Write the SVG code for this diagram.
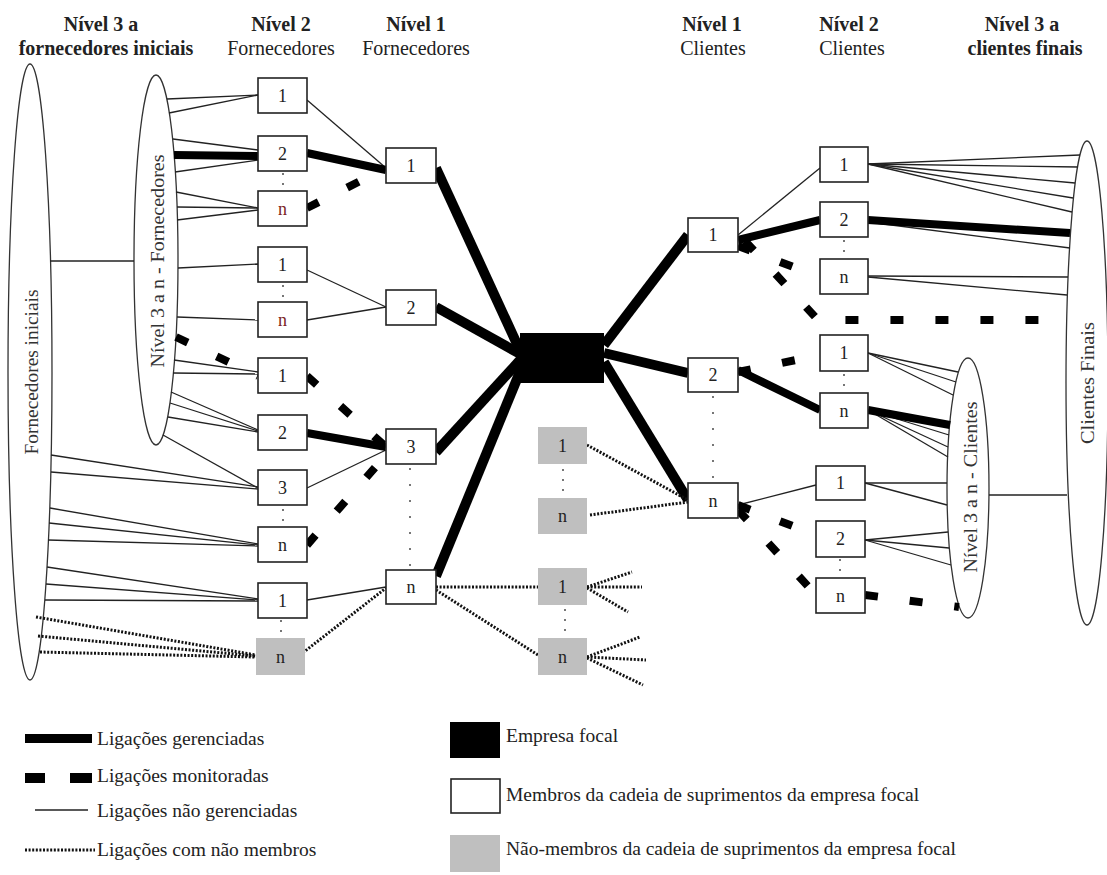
<svg xmlns="http://www.w3.org/2000/svg" width="1107" height="875" viewBox="0 0 1107 875">
  <style>
    .bg { fill: #ffffff; }
    .hb { font-family: "Liberation Serif", "Times New Roman", serif; font-size: 20px; font-weight: bold; fill: #222; text-anchor: middle; }
    .hr { font-family: "Liberation Serif", "Times New Roman", serif; font-size: 20px; fill: #222; text-anchor: middle; }
    .lbl { font-family: "Liberation Serif", "Times New Roman", serif; font-size: 18px; fill: #222; text-anchor: middle; }
    .lbl.red { fill: #7a2323; }
    .vt { font-family: "Liberation Serif", "Times New Roman", serif; font-size: 19px; fill: #333; text-anchor: middle; }
    .lg { font-family: "Liberation Serif", "Times New Roman", serif; font-size: 19.5px; fill: #222; }
    .member { fill: #ffffff; stroke: #222; stroke-width: 1.6; }
    .nonmember { fill: #bfbfbf; stroke: none; }
    .focal { fill: #000; }
    .ell { fill: #ffffff; stroke: #333; stroke-width: 1.3; }
    .thin { stroke: #222; stroke-width: 1.3; fill: none; }
    .thick { stroke: #000; stroke-width: 8; fill: none; }
    .thick.w { stroke-width: 10; }
    .mon { stroke: #000; stroke-width: 8; fill: none; stroke-dasharray: 13 32; }
    .dot { stroke: #111; stroke-width: 3; fill: none; stroke-dasharray: 2 1.6; }
    .sep { stroke: #555; stroke-width: 1.6; fill: none; stroke-dasharray: 2 8; }
  </style>

  <rect class="bg" x="0" y="0" width="1107" height="875"/>

  <!-- column headings -->
  <g id="headings">
    <text class="hb" x="101" y="31">Nível 3 a</text>
    <text class="hb" x="106" y="55">fornecedores iniciais</text>
    <text class="hb" x="281" y="31">Nível 2</text>
    <text class="hr" x="281" y="55">Fornecedores</text>
    <text class="hb" x="416" y="31">Nível 1</text>
    <text class="hr" x="416" y="55">Fornecedores</text>
    <text class="hb" x="712" y="31">Nível 1</text>
    <text class="hr" x="713" y="55">Clientes</text>
    <text class="hb" x="849" y="31">Nível 2</text>
    <text class="hr" x="852" y="55">Clientes</text>
    <text class="hb" x="1022" y="31">Nível 3 a</text>
    <text class="hb" x="1025" y="55">clientes finais</text>
  </g>

  <!-- tier groups drawn as ellipses -->
  <g id="tier-initial-suppliers">
    <ellipse class="ell" cx="30" cy="372" rx="22" ry="308"/>
    <text class="vt" x="38" y="372" transform="rotate(-90 38 372)" textLength="165" lengthAdjust="spacingAndGlyphs">Fornecedores iniciais</text>
  </g>
  <g id="tier-3n-suppliers">
    <ellipse class="ell" cx="156" cy="260" rx="22" ry="185"/>
    <text class="vt" x="164" y="261" transform="rotate(-90 164 261)" textLength="213" lengthAdjust="spacingAndGlyphs">Nível 3 a n  -  Fornecedores</text>
  </g>
  <g id="tier-final-customers">
    <ellipse class="ell" cx="1087" cy="383" rx="21" ry="242"/>
    <text class="vt" x="1094" y="383" transform="rotate(-90 1094 383)" textLength="122" lengthAdjust="spacingAndGlyphs">Clientes Finais</text>
  </g>
  <g id="tier-3n-customers">
    <ellipse class="ell" cx="968" cy="488" rx="21" ry="130"/>
    <text class="vt" x="977" y="487" transform="rotate(-90 977 487)" textLength="171" lengthAdjust="spacingAndGlyphs">Nível 3 a n  -  Clientes</text>
  </g>

  <!-- links between members -->
  <g id="connectors">
    <!-- unmanaged links -->
    <g class="thin">
      <line x1="50" y1="261" x2="134" y2="261"/>
      <line x1="167" y1="99" x2="258" y2="95"/>
      <line x1="169" y1="113" x2="258" y2="95"/>
      <line x1="173" y1="139" x2="258" y2="150"/>
      <line x1="175" y1="172" x2="258" y2="160"/>
      <line x1="176" y1="192" x2="258" y2="208"/>
      <line x1="177" y1="207" x2="258" y2="208"/>
      <line x1="177" y1="220" x2="258" y2="210"/>
      <line x1="178" y1="268" x2="258" y2="264"/>
      <line x1="177" y1="317" x2="258" y2="320"/>
      <line x1="174" y1="360" x2="258" y2="372"/>
      <line x1="173" y1="373" x2="258" y2="374"/>
      <line x1="171" y1="392" x2="258" y2="430"/>
      <line x1="170" y1="403" x2="258" y2="431"/>
      <line x1="168" y1="417" x2="258" y2="432"/>
      <line x1="163" y1="435" x2="258" y2="488"/>
      <line x1="51" y1="455" x2="258" y2="487"/>
      <line x1="51" y1="472" x2="258" y2="489"/>
      <line x1="50" y1="508" x2="258" y2="544"/>
      <line x1="49" y1="523" x2="258" y2="545"/>
      <line x1="48" y1="540" x2="258" y2="546"/>
      <line x1="47" y1="567" x2="258" y2="599"/>
      <line x1="46" y1="584" x2="258" y2="600"/>
      <line x1="45" y1="600" x2="258" y2="601"/>
      <line x1="307" y1="100" x2="386" y2="168"/>
      <line x1="307" y1="270" x2="386" y2="307"/>
      <line x1="307" y1="320" x2="386" y2="307"/>
      <line x1="307" y1="488" x2="386" y2="450"/>
      <line x1="307" y1="600" x2="386" y2="587"/>
      <line x1="738" y1="235" x2="820" y2="168"/>
      <line x1="738" y1="505" x2="816" y2="485"/>
      <line x1="868" y1="164" x2="1080" y2="155"/>
      <line x1="868" y1="164" x2="1078" y2="167"/>
      <line x1="868" y1="164" x2="1075" y2="183"/>
      <line x1="868" y1="164" x2="1073" y2="198"/>
      <line x1="868" y1="164" x2="1072" y2="212"/>
      <line x1="868" y1="222" x2="1070" y2="248"/>
      <line x1="868" y1="276" x2="1068" y2="277"/>
      <line x1="868" y1="277" x2="1067" y2="295"/>
      <line x1="868" y1="353" x2="958" y2="372"/>
      <line x1="868" y1="353" x2="956" y2="382"/>
      <line x1="868" y1="353" x2="953" y2="395"/>
      <line x1="868" y1="410" x2="949" y2="435"/>
      <line x1="868" y1="410" x2="948" y2="447"/>
      <line x1="868" y1="410" x2="948" y2="457"/>
      <line x1="865" y1="483" x2="947" y2="483"/>
      <line x1="865" y1="483" x2="947" y2="505"/>
      <line x1="865" y1="540" x2="948" y2="532"/>
      <line x1="865" y1="540" x2="949" y2="548"/>
      <line x1="865" y1="540" x2="951" y2="565"/>
      <line x1="989" y1="495" x2="1067" y2="495"/>
    </g>

    <!-- managed links -->
    <g>
      <line class="thick" x1="174" y1="155" x2="258" y2="156"/>
      <line class="thick" x1="307" y1="153" x2="386" y2="170"/>
      <line class="thick" x1="307" y1="433" x2="386" y2="447"/>
      <line class="thick w" x1="436" y1="168" x2="522" y2="355"/>
      <line class="thick w" x1="436" y1="307" x2="522" y2="355"/>
      <line class="thick w" x1="436" y1="452" x2="522" y2="358"/>
      <line class="thick w" x1="436" y1="576" x2="524" y2="362"/>
      <line class="thick w" x1="604" y1="345" x2="688" y2="235"/>
      <line class="thick w" x1="604" y1="353" x2="688" y2="373"/>
      <line class="thick w" x1="604" y1="362" x2="688" y2="500"/>
      <line class="thick" x1="738" y1="240" x2="820" y2="220"/>
      <line class="thick" x1="868" y1="220" x2="1070" y2="233"/>
      <line class="thick" x1="738" y1="370" x2="820" y2="410"/>
      <line class="thick" x1="868" y1="410" x2="950" y2="425"/>
    </g>

    <!-- monitored links -->
    <g class="mon">
      <line x1="307" y1="208" x2="386" y2="168"/>
      <line x1="176" y1="337" x2="258" y2="376"/>
      <line x1="307" y1="376" x2="386" y2="447"/>
      <line x1="307" y1="545" x2="386" y2="455"/>
      <line x1="738" y1="246" x2="820" y2="277"/>
      <polyline points="745,241 818,320 1067,320"/>
      <line x1="738" y1="372" x2="820" y2="355"/>
      <line x1="738" y1="505" x2="816" y2="535"/>
      <line x1="738" y1="510" x2="816" y2="595"/>
      <line x1="865" y1="595" x2="959" y2="607"/>
    </g>

    <!-- links with non-members -->
    <g class="dot">
      <line x1="36" y1="617" x2="256" y2="655"/>
      <line x1="38" y1="636" x2="256" y2="656"/>
      <line x1="40" y1="652" x2="256" y2="657"/>
      <line x1="300" y1="655" x2="386" y2="588"/>
      <line x1="436" y1="587" x2="538" y2="587"/>
      <line x1="436" y1="590" x2="538" y2="655"/>
      <line x1="587" y1="587" x2="632" y2="572"/>
      <line x1="587" y1="587" x2="642" y2="587"/>
      <line x1="587" y1="588" x2="628" y2="612"/>
      <line x1="587" y1="657" x2="640" y2="637"/>
      <line x1="587" y1="657" x2="646" y2="660"/>
      <line x1="587" y1="658" x2="643" y2="685"/>
      <line x1="587" y1="445" x2="688" y2="500"/>
      <line x1="590" y1="515" x2="688" y2="502"/>
    </g>

    <!-- ellipsis dots between members of the same tier -->
    <g class="sep">
      <line x1="283" y1="173" x2="283" y2="190"/>
      <line x1="283" y1="285" x2="283" y2="301"/>
      <line x1="283" y1="509" x2="283" y2="526"/>
      <line x1="281" y1="620" x2="281" y2="637"/>
      <line x1="410" y1="468" x2="410" y2="568" style="stroke-dasharray:2 14"/>
      <line x1="563" y1="469" x2="563" y2="496"/>
      <line x1="565" y1="609" x2="565" y2="636"/>
      <line x1="713" y1="396" x2="713" y2="481" style="stroke-dasharray:2 14"/>
      <line x1="844" y1="240" x2="844" y2="258"/>
      <line x1="844" y1="374" x2="844" y2="392"/>
      <line x1="840" y1="559" x2="840" y2="577"/>
    </g>
  </g>

  <!-- focal company -->
  <g id="focal">
    <rect class="focal" x="520" y="333" width="84" height="50"/>
  </g>

  <!-- tier 2 suppliers -->
  <g id="s2-1a"><rect class="member" x="258" y="78" width="49" height="35"/><text class="lbl" x="282.5" y="102">1</text></g>
  <g id="s2-2a"><rect class="member" x="258" y="136" width="49" height="35"/><text class="lbl" x="282.5" y="160">2</text></g>
  <g id="s2-na"><rect class="member" x="258" y="191" width="49" height="35"/><text class="lbl red" x="282.5" y="215">n</text></g>
  <g id="s2-1b"><rect class="member" x="258" y="247" width="49" height="35"/><text class="lbl" x="282.5" y="271">1</text></g>
  <g id="s2-nb"><rect class="member" x="258" y="302" width="49" height="35"/><text class="lbl red" x="282.5" y="326">n</text></g>
  <g id="s2-1c"><rect class="member" x="258" y="358" width="49" height="35"/><text class="lbl" x="282.5" y="382">1</text></g>
  <g id="s2-2c"><rect class="member" x="258" y="415" width="49" height="35"/><text class="lbl" x="282.5" y="439">2</text></g>
  <g id="s2-3c"><rect class="member" x="258" y="470" width="49" height="35"/><text class="lbl" x="282.5" y="494">3</text></g>
  <g id="s2-nc"><rect class="member" x="258" y="527" width="49" height="35"/><text class="lbl" x="282.5" y="551">n</text></g>
  <g id="s2-1d"><rect class="member" x="258" y="583" width="49" height="35"/><text class="lbl" x="282.5" y="607">1</text></g>
  <g id="s2-nd"><rect class="nonmember" x="256" y="638" width="49" height="37"/><text class="lbl" x="280.5" y="663">n</text></g>

  <!-- tier 1 suppliers -->
  <g id="s1-1"><rect class="member" x="386" y="148" width="50" height="35"/><text class="lbl" x="411" y="172">1</text></g>
  <g id="s1-2"><rect class="member" x="386" y="290" width="50" height="35"/><text class="lbl" x="411" y="314">2</text></g>
  <g id="s1-3"><rect class="member" x="386" y="429" width="50" height="35"/><text class="lbl" x="411" y="453">3</text></g>
  <g id="s1-n"><rect class="member" x="386" y="570" width="50" height="34"/><text class="lbl" x="411" y="593">n</text></g>

  <!-- non-members beside the focal company -->
  <g id="nm-1a"><rect class="nonmember" x="538" y="427" width="49" height="37"/><text class="lbl" x="562.5" y="452">1</text></g>
  <g id="nm-na"><rect class="nonmember" x="538" y="498" width="49" height="36"/><text class="lbl" x="562.5" y="522">n</text></g>
  <g id="nm-1b"><rect class="nonmember" x="538" y="568" width="49" height="37"/><text class="lbl" x="562.5" y="593">1</text></g>
  <g id="nm-nb"><rect class="nonmember" x="538" y="638" width="49" height="37"/><text class="lbl" x="562.5" y="663">n</text></g>

  <!-- tier 1 customers -->
  <g id="c1-1"><rect class="member" x="688" y="218" width="50" height="34"/><text class="lbl" x="713" y="241">1</text></g>
  <g id="c1-2"><rect class="member" x="688" y="358" width="50" height="34"/><text class="lbl" x="713" y="381">2</text></g>
  <g id="c1-n"><rect class="member" x="688" y="483" width="50" height="35"/><text class="lbl" x="713" y="507">n</text></g>

  <!-- tier 2 customers -->
  <g id="c2-1a"><rect class="member" x="820" y="147" width="48" height="35"/><text class="lbl" x="844" y="171">1</text></g>
  <g id="c2-2a"><rect class="member" x="820" y="202" width="48" height="35"/><text class="lbl" x="844" y="226">2</text></g>
  <g id="c2-na"><rect class="member" x="820" y="259" width="48" height="35"/><text class="lbl" x="844" y="283">n</text></g>
  <g id="c2-1b"><rect class="member" x="820" y="335" width="48" height="36"/><text class="lbl" x="844" y="359">1</text></g>
  <g id="c2-nb"><rect class="member" x="820" y="393" width="48" height="35"/><text class="lbl" x="844" y="417">n</text></g>
  <g id="c2-1c"><rect class="member" x="816" y="466" width="49" height="34"/><text class="lbl" x="840.5" y="489">1</text></g>
  <g id="c2-2c"><rect class="member" x="816" y="521" width="49" height="36"/><text class="lbl" x="840.5" y="545">2</text></g>
  <g id="c2-nc"><rect class="member" x="816" y="578" width="49" height="35"/><text class="lbl" x="840.5" y="602">n</text></g>

  <!-- legend -->
  <g id="legend">
    <rect x="25" y="734" width="67" height="9" fill="#000"/>
    <text class="lg" x="97" y="745">Ligações gerenciadas</text>
    <rect x="25" y="773" width="20" height="10" fill="#000"/>
    <rect x="70" y="773" width="22" height="10" fill="#000"/>
    <text class="lg" x="97" y="782">Ligações monitoradas</text>
    <line x1="35" y1="810" x2="88" y2="810" stroke="#222" stroke-width="1.3"/>
    <text class="lg" x="97" y="817">Ligações não gerenciadas</text>
    <line class="dot" x1="25" y1="850" x2="95" y2="850"/>
    <text class="lg" x="97" y="856">Ligações com não membros</text>

    <rect x="450" y="722" width="50" height="36" fill="#000"/>
    <text class="lg" x="506" y="742">Empresa focal</text>
    <rect class="member" x="451" y="779" width="49" height="34"/>
    <text class="lg" x="506" y="801">Membros da cadeia de suprimentos da empresa focal</text>
    <rect class="nonmember" x="450" y="835" width="50" height="37"/>
    <text class="lg" x="506" y="855">Não-membros da cadeia de suprimentos da empresa focal</text>
  </g>
</svg>
